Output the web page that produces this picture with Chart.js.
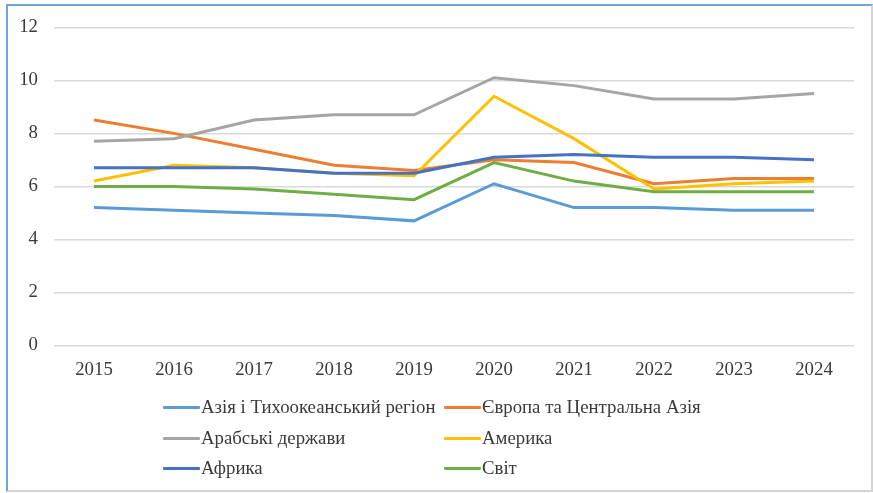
<!DOCTYPE html>
<html>
<head>
<meta charset="utf-8">
<script src="https://cdn.jsdelivr.net/npm/chart.js@4"></script>
<style>
  html, body { margin: 0; padding: 0; background: #ffffff; }
  #wrap { position: relative; width: 873px; height: 493px; overflow: hidden; }
  #frame { position: absolute; left: 6px; top: 4px; width: 863px; height: 484px;
           border-top: 2px solid #70A4DA; border-left: 2px solid #70A4DA;
           border-right: 2px solid #D4D4D4; border-bottom: 2px solid #D4D4D4; box-sizing: content-box; }
  #c { position: absolute; left: 0; top: 0; }
  .leg { position: absolute; font-family: "Liberation Serif", "Times New Roman", serif; font-size: 18.8px;
         color: #3A3A3A; white-space: nowrap; line-height: 20px; height: 20px; }
  .leg .sw { position: absolute; left: 0; top: 9px; width: 37px; height: 3px; border-radius: 1px; }
  .leg .tx { position: absolute; left: 38px; top: 0; }
</style>
</head>
<body>
<div id="wrap">
  <div id="frame"></div>
  <canvas id="c" width="873" height="493"></canvas>
  <div id="legend"></div>
</div>
<script>
const years = ['2015','2016','2017','2018','2019','2020','2021','2022','2023','2024'];
const yTicks = [0, 2, 4, 6, 8, 10, 12];

const seriesNames = ['Азія і Тихоокеанський регіон', 'Європа та Центральна Азія', 'Арабські держави', 'Америка', 'Африка', 'Світ'];
const seriesColors = ['#5B9BD5', '#ED7D31', '#A5A5A5', '#FFC000', '#4472C4', '#70AD47'];

const asiaPacific = [5.2, 5.1, 5.0, 4.9, 4.7, 6.1, 5.2, 5.2, 5.1, 5.1];
const europeCentralAsia = [8.5, 8.0, 7.4, 6.8, 6.6, 7.0, 6.9, 6.1, 6.3, 6.3];
const arabStates = [7.7, 7.8, 8.5, 8.7, 8.7, 10.1, 9.8, 9.3, 9.3, 9.5];
const americas = [6.2, 6.8, 6.7, 6.5, 6.4, 9.4, 7.8, 5.9, 6.1, 6.2];
const africa = [6.7, 6.7, 6.7, 6.5, 6.5, 7.1, 7.2, 7.1, 7.1, 7.0];
const world = [6.0, 6.0, 5.9, 5.7, 5.5, 6.9, 6.2, 5.8, 5.8, 5.8];

const seriesData = [asiaPacific, europeCentralAsia, arabStates, americas, africa, world];

const datasets = seriesData.map((d, i) => ({
  label: seriesNames[i],
  data: d,
  borderColor: seriesColors[i],
  backgroundColor: seriesColors[i],
  borderWidth: 3,
  pointRadius: 0,
  pointHoverRadius: 0,
  tension: 0,
  fill: false,
  order: seriesData.length - i
}));

const tickFont = { family: '"Liberation Serif", "Times New Roman", serif', size: 18.8 };

new Chart(document.getElementById('c'), {
  type: 'line',
  data: { labels: years, datasets },
  options: {
    responsive: false,
    animation: false,
    devicePixelRatio: 1,
    layout: { padding: { top: 24.5, right: 19, bottom: 107.5, left: 0 } },
    plugins: { legend: { display: false }, tooltip: { enabled: false } },
    scales: {
      x: {
        offset: true,
        grid: { display: false, drawTicks: false },
        border: { display: false },
        ticks: { font: tickFont, color: '#3A3A3A', padding: 13.5, maxRotation: 0, autoSkip: false },
        afterFit: s => { s.height = 40; }
      },
      y: {
        min: 0, max: 12,
        afterBuildTicks: s => { s.ticks = yTicks.map(v => ({ value: v })); },
        grid: { color: '#D9D9D9', lineWidth: 1.5, drawTicks: false },
        border: { display: false },
        ticks: { font: tickFont, color: '#3A3A3A', padding: 16 },
        afterFit: s => { s.width = 54; }
      }
    }
  }
});

// HTML legend in two columns
const legendPos = [
  { x: 163, y: 397 }, { x: 444, y: 397 },
  { x: 163, y: 428 }, { x: 444, y: 428 },
  { x: 163, y: 458 }, { x: 444, y: 458 }
];
const legendEl = document.getElementById('legend');
seriesNames.forEach((name, i) => {
  const d = document.createElement('div');
  d.className = 'leg';
  d.style.left = legendPos[i].x + 'px';
  d.style.top = legendPos[i].y + 'px';
  const sw = document.createElement('span');
  sw.className = 'sw';
  sw.style.background = seriesColors[i];
  const tx = document.createElement('span');
  tx.className = 'tx';
  tx.textContent = name;
  d.appendChild(sw); d.appendChild(tx);
  legendEl.appendChild(d);
});
</script>
</body>
</html>
